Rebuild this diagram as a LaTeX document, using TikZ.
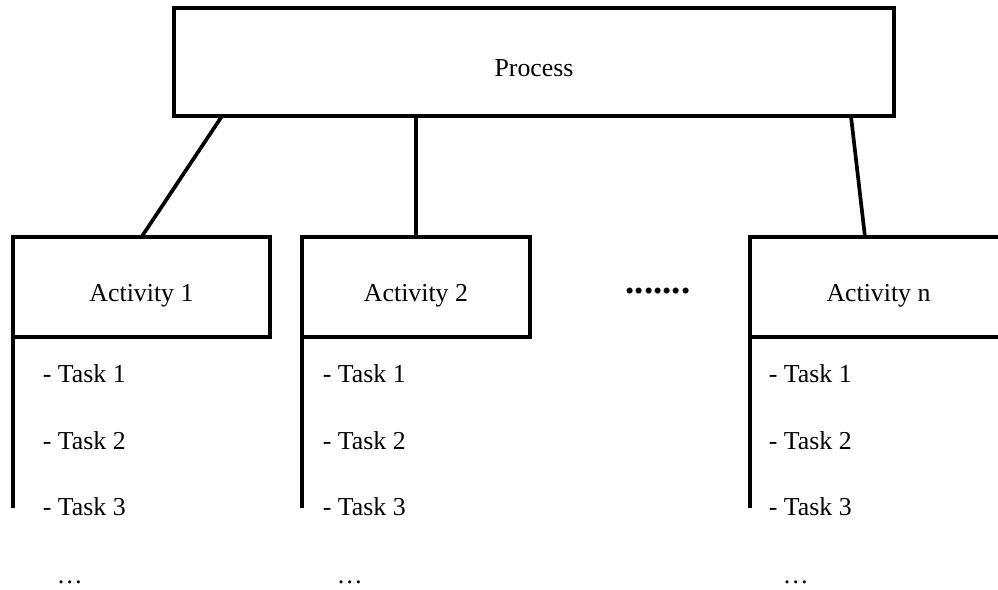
\documentclass[tikz,border=0pt]{standalone}
\usepackage{fontspec}
\setmainfont{Liberation Serif}

\begin{document}
\begin{tikzpicture}[x=0.02cm,y=-0.02cm,line width=2.1pt,
    box/.style={draw,rectangle,outer sep=0pt,minimum height=2cm,text height=0.6cm,text depth=0cm,
        font=\fontsize{14.7}{17}\selectfont},
    task/.style={anchor=base west,inner sep=0pt,font=\fontsize{14.7}{17}\selectfont}]
    \useasboundingbox (0,0) rectangle (998,590);
    \clip (0,0) rectangle (998,590);
    \node[box,minimum width=14.4cm,minimum height=2.16cm] (proc) at (534,62) {Process};
    \node[box,minimum width=5.14cm] (act1) at (141.5,287) {Activity 1};
    \node[box,minimum width=4.56cm] (act2) at (416,287) {Activity 2};
    \node[box,minimum width=5.14cm] (actn) at (878.5,287) {Activity n};
    \node[inner sep=0pt,font=\fontsize{21}{24}\selectfont\bfseries] (more) at (658,291) {.......};
    \foreach \a/\x in {act1/41,act2/321,actn/767} {
        \coordinate (\a end) at (\a.south west |- 0,508);
        \draw (\a.south west) -- (\a end);
        \node[task] (\a t1) at (\x,383) {- Task 1};
        \node[task] (\a t2) at (\x,450) {- Task 2};
        \node[task] (\a t3) at (\x,516) {- Task 3};
        \node[task] (\a t4) at (\x+14,584) {…};
    }
    \draw (act1.north) -- ([xshift=0.96cm]proc.south west);
    \draw (act2.north) -- (act2.north |- proc.south);
    \draw ([xshift=-0.27cm]actn.north) -- ([xshift=-0.86cm]proc.south east);
\end{tikzpicture}
\end{document}
